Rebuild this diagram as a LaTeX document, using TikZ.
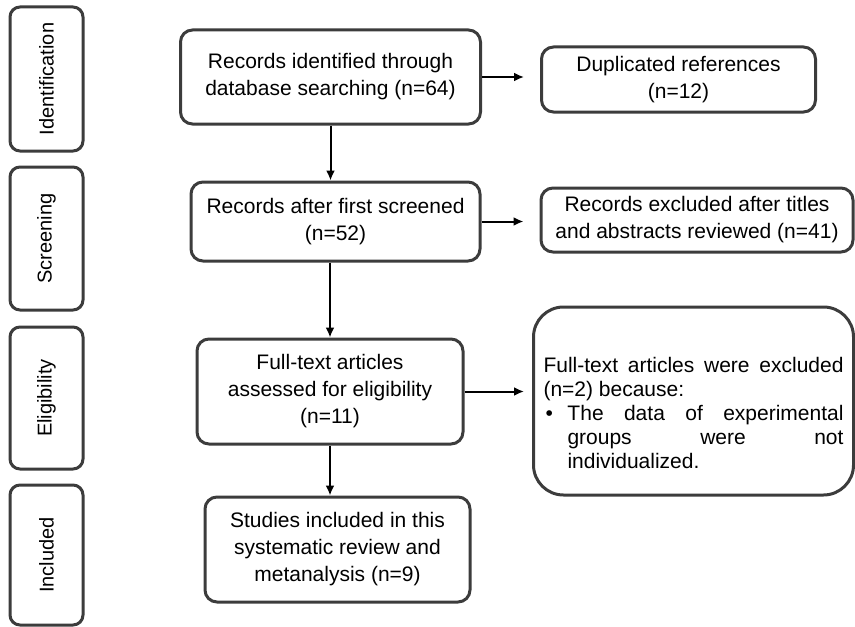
\documentclass[tikz,border=0pt]{standalone}
\usepackage{fontspec}
\setmainfont{Liberation Sans}
\usepackage{tikz}
\usetikzlibrary{arrows.meta}
\definecolor{boxgray}{RGB}{60,60,60}

\begin{document}
\begin{tikzpicture}[x=0.5pt,y=-0.5pt,>={Latex[length=5pt,width=4.5pt]},
                    stage/.style={draw=boxgray,line width=1.5pt,rounded corners=5pt,
                      rotate=90,minimum height=36.5pt,font=\fontsize{10}{12}\selectfont},
                    main node/.style={draw=boxgray,line width=1.5pt,rounded corners=6pt,
                      align=center,inner sep=2pt,font=\fontsize{10.5}{13.5}\selectfont}]
  \useasboundingbox (0,0) rectangle (855,626);
  %stages%
  \node[stage,minimum width=72pt] (ident) at (46.5,79) {Identification};
  \node[stage,minimum width=71.5pt] (screen) at (46.5,238.5) {Screening};
  \node[stage,minimum width=71pt] (elig) at (46.5,398) {Eligibility};
  \node[stage,minimum width=70pt] (incl) at (46.5,555) {Included};

  %flow%
  \node[main node,minimum width=150pt,minimum height=47pt] (rec) at (330.5,77)
    {Records identified through\\database searching (n=64)};
  \node[main node,minimum width=144.5pt,minimum height=39.5pt] (scr) at (335.5,221.5)
    {Records after first screened\\(n=52)};
  \node[main node,minimum width=133pt,minimum height=52.5pt] (full) at (330,391.5)
    {Full-text articles\\assessed for eligibility\\(n=11)};
  \node[main node,minimum width=132.5pt,minimum height=52.5pt] (study) at (337.5,549.5)
    {Studies included in this\\systematic review and\\metanalysis (n=9)};

  \node[main node,minimum width=137pt,minimum height=32.5pt] (dup) at (678.5,79.5)
    {Duplicated references\\(n=12)};
  \node[main node,minimum width=156pt,minimum height=32pt] (excl) at (697,220)
    {Records excluded after titles\\and abstracts reviewed (n=41)};
  \node[main node,rounded corners=15pt,minimum width=160pt,minimum height=94pt,
        text width=150pt,align=justify,font=\fontsize{10.5}{12}\selectfont] (drop) at (693.5,401)
    {\hyphenpenalty=10000\rule{0pt}{19.5pt}%
     Full-text articles were excluded (n=2) because:\par
     \noindent\makebox[12pt][l]{\hspace{1pt}\textbullet}\parbox[t]{138pt}{%
       The\hfill data\hfill of\hfill experimental\\
       groups\hfill were\hfill not\\
       individualized.}};

  \path[->,line width=1pt,every node/.style={font=\small}]
    (rec) edge (rec.south |- scr.north)
    (full.north |- scr.south) edge (full)
    (full) edge (full.south |- study.north)
    (rec) edge[shorten >=8pt] (rec.east -| dup.west)
    (scr.east) edge[shorten >=8pt] (scr.east -| excl.west)
    (full) edge[shorten >=4pt] (full.east -| drop.west);
\end{tikzpicture}
\end{document}
